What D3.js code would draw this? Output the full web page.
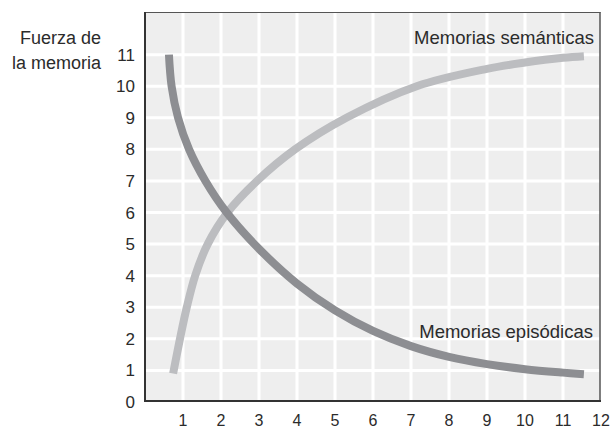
<!DOCTYPE html>
<html>
<head>
<meta charset="utf-8">
<script src="https://cdn.jsdelivr.net/npm/d3@7"></script>
<style>
  html, body { margin: 0; padding: 0; background: #ffffff; }
  svg { display: block; }
  text { font-family: "Liberation Sans", Arial, sans-serif; fill: #2b2b2b; }
</style>
</head>
<body>
<svg id="chart" width="611" height="430"></svg>
<script>
// ---- Data ----
const xTicks = [1, 2, 3, 4, 5, 6, 7, 8, 9, 10, 11, 12];
const yTicks = [0, 1, 2, 3, 4, 5, 6, 7, 8, 9, 10, 11];
const yTitle = ["Fuerza de", "la memoria"];

const episodicX = [0.63, 0.70, 0.87, 1.16, 1.59, 2.15, 3, 4, 5, 6, 7, 8, 9, 10, 11, 11.55];
const episodicY = [11, 10, 9, 8, 7, 6, 4.85, 3.75, 2.9, 2.25, 1.77, 1.43, 1.2, 1.04, 0.93, 0.88];
const episodicLabel = "Memorias episódicas";

const semanticX = [0.74, 0.92, 1.1, 1.32, 1.65, 2.17, 2.95, 3.95, 5.3, 7.15, 9, 10, 11, 11.55];
const semanticY = [0.9, 2, 3, 4, 5, 6, 7, 8, 9, 10, 10.55, 10.75, 10.9, 10.95];
const semanticLabel = "Memorias semánticas";

// ---- Layout ----
const svg = d3.select("#chart");
const pL = 145, pR = 601, pT = 12, pB = 402;

const x = d3.scaleLinear().domain([0, 12]).range([pL, pR]);
const y = d3.scaleLinear().domain([0, 12.35]).range([pB, pT]);

// background
svg.append("rect")
  .attr("x", pL).attr("y", pT)
  .attr("width", 600 - pL).attr("height", 401 - pT)
  .attr("fill", "#eeeeee");

// grid
const grid = svg.append("g");
grid.selectAll("line.v").data(xTicks.filter(d => d < 12)).enter().append("line")
  .attr("x1", d => x(d)).attr("x2", d => x(d))
  .attr("y1", pT).attr("y2", 401)
  .attr("stroke", "#ffffff").attr("stroke-width", 3);
grid.selectAll("line.h").data(yTicks.filter(d => d > 0)).enter().append("line")
  .attr("x1", pL).attr("x2", 600)
  .attr("y1", d => y(d)).attr("y2", d => y(d))
  .attr("stroke", "#ffffff").attr("stroke-width", 3);

// frame: top & right thin, left & bottom darker
svg.append("line").attr("x1", pL).attr("x2", 600.5).attr("y1", pT + 0.5).attr("y2", pT + 0.5)
  .attr("stroke", "#555555").attr("stroke-width", 1);
svg.append("line").attr("x1", 600).attr("x2", 600).attr("y1", pT).attr("y2", 401)
  .attr("stroke", "#555555").attr("stroke-width", 1.5);
svg.append("line").attr("x1", pL).attr("x2", pL).attr("y1", pT).attr("y2", 402)
  .attr("stroke", "#333333").attr("stroke-width", 2);
svg.append("line").attr("x1", pL - 1).attr("x2", 601).attr("y1", 401).attr("y2", 401)
  .attr("stroke", "#333333").attr("stroke-width", 2);

// curves
const line = d3.line().x(d => x(d[0])).y(d => y(d[1])).curve(d3.curveCatmullRom.alpha(0.5));
const semantic = semanticX.map((v, i) => [v, semanticY[i]]);
const episodic = episodicX.map((v, i) => [v, episodicY[i]]);

svg.append("path").datum(semantic).attr("d", line)
  .attr("fill", "none").attr("stroke", "#bcbdc0").attr("stroke-width", 8);
svg.append("path").datum(episodic).attr("d", line)
  .attr("fill", "none").attr("stroke", "#8d8e92").attr("stroke-width", 8);

// tick labels
svg.append("g").selectAll("text").data(yTicks).enter().append("text")
  .attr("x", 135).attr("y", d => y(d) + 6)
  .attr("text-anchor", "end").attr("font-size", 17)
  .text(d => d);
svg.append("g").selectAll("text").data(xTicks).enter().append("text")
  .attr("x", d => x(d)).attr("y", 426)
  .attr("text-anchor", "middle").attr("font-size", 16)
  .text(d => d);

// y title
svg.append("g").selectAll("text").data(yTitle).enter().append("text")
  .attr("x", 101).attr("y", (d, i) => 44 + i * 25)
  .attr("text-anchor", "end").attr("font-size", 18)
  .text(d => d);

// series labels
svg.append("text").attr("x", 594).attr("y", 44)
  .attr("text-anchor", "end").attr("font-size", 18.5)
  .text(semanticLabel);
svg.append("text").attr("x", 593).attr("y", 338)
  .attr("text-anchor", "end").attr("font-size", 18.5)
  .text(episodicLabel);
</script>
</body>
</html>
